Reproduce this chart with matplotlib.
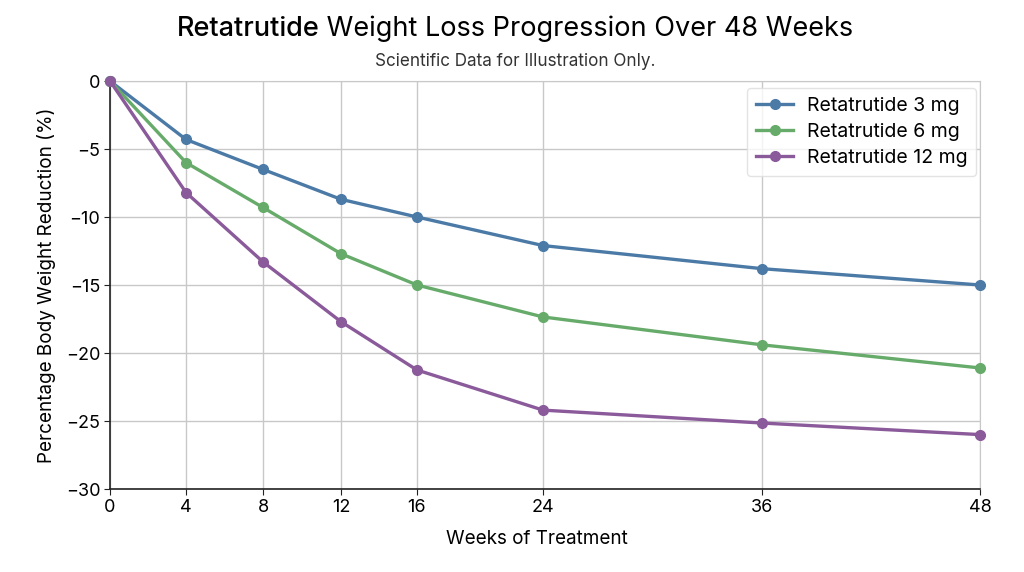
import numpy as np
import matplotlib
matplotlib.use("Agg")
import matplotlib.pyplot as plt
from matplotlib.scale import FuncScale

weeks = [0, 4, 8, 12, 16, 24, 36, 48]
dose_3mg = [0, -4.3, -6.5, -8.7, -10.0, -12.1, -13.8, -15.0]
dose_6mg = [0, -6.0, -9.3, -12.7, -15.0, -17.35, -19.4, -21.1]
dose_12mg = [0, -8.2, -13.3, -17.7, -21.25, -24.2, -25.15, -26.0]
series_labels = ["Retatrutide 3 mg", "Retatrutide 6 mg", "Retatrutide 12 mg"]
y_ticks = [0, -5, -10, -15, -20, -25, -30]

# axis spacing as in the reference (uneven)
tick_pos = np.array([0, 76, 153, 231, 307, 433, 652, 870]) / 870 * 48
wk = np.array(weeks, dtype=float)

def fwd(x):
    return np.interp(x, wk, tick_pos)

def inv(y):
    return np.interp(y, tick_pos, wk)

plt.rcParams['font.family'] = ['Inter', 'DejaVu Sans']

fig = plt.figure(figsize=(10.24, 5.72), dpi=100)
ax = fig.add_axes([110/1024, 1-489/572, 870/1024, 408/572])
ax.set_xscale(FuncScale(ax, (fwd, inv)))

colors = ['#4b7aa6', '#67ab6b', '#8a5a9a']
for vals, lab, c in zip([dose_3mg, dose_6mg, dose_12mg], series_labels, colors):
    ax.plot(weeks, vals, color=c, lw=2.4, marker='o', ms=7, label=lab, zorder=3, clip_on=False)

ax.set_xlim(0, 48)
ax.set_ylim(-30, 0)
ax.set_xticks(weeks)
ax.set_yticks(y_ticks)
ax.set_xticklabels([str(w) for w in weeks], fontsize=13)
ax.set_yticklabels([str(t).replace('-', '\u2212') for t in y_ticks], fontsize=13)
ax.grid(True, color='#c8c8c8', lw=1)
ax.set_axisbelow(True)
for s in ['top', 'right']:
    ax.spines[s].set_color('#c8c8c8')
for s in ['left', 'bottom']:
    ax.spines[s].set_color('#222222')
    ax.spines[s].set_linewidth(1.2)
ax.tick_params(length=4, color='#222222', pad=3)

ax.set_xlabel("Weeks of Treatment", fontsize=13.6, labelpad=11)
ax.xaxis.set_label_coords((537-110)/870, -0.1)
ax.xaxis.label.set_va('top')
ax.set_ylabel("Percentage Body Weight Reduction (%)", fontsize=13.6, labelpad=7)

leg = ax.legend(loc='upper right', fontsize=14, frameon=True, fancybox=True,
                edgecolor='#dddddd', handlelength=1.9, borderpad=0.45, labelspacing=0.42,
                handletextpad=0.7, borderaxespad=0,
                bbox_to_anchor=((976-110)/870, (489-88)/408))

# Title with emphasised first word
r = fig.canvas.get_renderer()
t1 = fig.text(0.5, 1-29/572, "Retatrutide", fontsize=19.5, fontweight='medium', ha='left', va='center')
t2 = fig.text(0.5, 1-29/572, " Weight Loss Progression Over 48 Weeks", fontsize=19.5, ha='left', va='center')
w1 = t1.get_window_extent(r).width
w2 = t2.get_window_extent(r).width
cx = 515
start = cx - (w1 + w2) / 2
t1.set_x(start / 1024)
t2.set_x((start + w1) / 1024)

fig.text(515/1024, 1-61/572, "Scientific Data for Illustration Only.", fontsize=12.3, ha='center', va='center', color='#333333')

fig.savefig("out.png", dpi=100, facecolor='white')
